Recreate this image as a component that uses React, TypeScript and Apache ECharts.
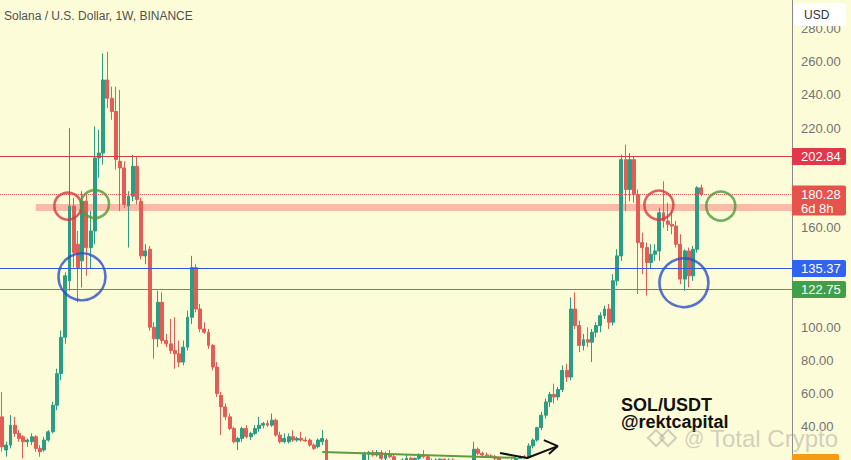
import React, { useEffect, useRef } from "react";
import * as echarts from "echarts";

// ---- weekly candles (SOL / USD, 1W) ----
const opens = [
  46, 26, 29, 41, 36, 34, 31, 31, 34, 27, 26, 32, 37, 53, 72, 94, 128, 173, 150, 140,
  176, 148, 158, 202, 205, 249, 238, 230, 200, 196, 173, 179, 197, 176, 143, 147, 100, 93, 115, 92,
  90, 86, 84, 79, 88, 106, 136, 111, 99, 97, 89, 76, 59, 52, 46, 39, 31, 33, 39, 34,
  36, 39, 41, 42, 41, 44, 35, 31, 31, 34, 32, 33, 32, 32, 29, 28, 31, 32, 14, 13,
  12, 13, 12, 11.5, 10, 10, 13.5, 23.5, 24.5, 23, 24.5, 21, 23.5, 22, 19, 17, 20, 21, 20, 21,
  22.5, 22, 19.5, 19, 20, 20.5, 19.5, 20, 16, 15, 17, 18.5, 19, 26.5, 24, 23, 22.5, 22, 21, 18,
  19.5, 18.5, 19, 21, 22, 21.5, 28.5, 32, 39.5, 47, 55, 59.5, 58, 62.5, 74, 70, 111, 101, 89, 92.5,
  91, 97, 101, 107, 111, 103, 128, 143, 201, 183, 201, 180, 151, 148, 139, 144, 146, 169, 164, 162,
  161, 150, 129, 146, 131, 147, 184,
];
const highs = [
  61, 31, 47, 46, 38, 35, 33, 36, 35, 29, 34, 38, 55, 75, 98, 133, 220, 178, 158, 182,
  180, 170, 221, 219, 265, 266, 245, 245, 243, 200, 182, 204, 203, 178, 150, 149, 103, 122, 121, 96,
  105, 106, 92, 92, 110, 143, 138, 114, 103, 99, 90, 79, 61, 54, 48, 40, 34, 40, 41, 37,
  41, 46, 43, 44, 48, 45, 37, 36, 36, 38, 34, 37, 34, 33, 30, 33, 38, 33, 17, 14,
  14, 14, 13, 12, 12, 14, 25, 25.5, 26, 26, 26, 25, 26, 23, 20, 21, 23, 22, 21.5, 24,
  26, 23, 21, 21, 21, 21, 21, 21, 17, 18, 19, 20, 31, 27.5, 25, 24.5, 23.5, 23, 22, 20,
  20, 20.5, 21.5, 22.5, 23, 30, 33, 40, 49, 57, 61, 66, 64, 77, 78, 118, 121, 104, 96, 100,
  99, 103, 109, 113, 114, 132, 147, 204, 210, 205, 203, 183, 157, 151, 150, 150, 172, 188, 175, 170,
  164, 156, 147, 148, 149, 185, 186,
];
const lows = [
  25, 22, 27, 34, 31, 21, 28, 29, 25, 22, 25, 31, 36, 50, 68, 90, 122, 136, 115, 124,
  131, 135, 150, 190, 198, 232, 225, 195, 170, 172, 148, 176, 174, 141, 138, 98, 81, 88, 90, 88,
  84, 75, 76, 77, 86, 102, 109, 97, 96, 87, 74, 58, 35, 44, 38, 30, 26, 31, 33, 32,
  35, 37, 39, 40, 40, 34, 30, 30, 30, 31, 31, 31, 31, 28, 26, 27, 29, 11, 12, 11,
  11, 12, 11, 9, 8, 9.5, 13, 20, 22, 22, 20, 20, 21, 18, 16, 16, 19, 19, 19, 20,
  21, 19, 18, 18, 19, 19, 19, 15, 14, 14, 16, 18, 18.5, 23, 22.5, 22, 21.5, 20, 17, 17,
  17.5, 17, 18.5, 20.5, 21, 21, 27, 31, 38, 45, 52, 54, 56, 61, 67, 68, 99, 85, 86, 88,
  79, 94, 97, 105, 99, 101, 125, 140, 170, 176, 175, 120, 132, 119, 135, 140, 140, 160, 158, 156,
  148, 126, 122, 124, 128, 145, 179,
];
const closes = [
  28, 29, 41, 36, 33, 31, 32, 34, 27, 25, 32, 37, 53, 72, 94, 131, 173, 145, 136, 176,
  148, 158, 202, 205, 249, 238, 230, 201, 196, 174, 179, 197, 177, 143, 146, 100, 93, 115, 92, 90,
  86, 84, 79, 88, 106, 136, 111, 99, 97, 89, 76, 60, 52, 46, 39, 31, 33, 39, 34, 36,
  39, 41, 42, 41, 44, 35, 31, 33, 34, 32, 33, 32, 31.5, 29, 27, 32, 33, 14, 13, 12,
  13, 12, 11.5, 10, 10, 13.5, 23.5, 24.5, 23, 24.5, 21, 23.5, 22, 19, 17, 20, 21, 20, 21, 22.5,
  22, 19.5, 19, 20, 20.5, 19.5, 20, 16, 15, 17, 18.5, 19, 26.5, 24, 23, 22.5, 22, 21, 18, 19.5,
  18.5, 19, 21, 22, 21.5, 28.5, 32, 39.5, 47, 55, 59.5, 58, 62.5, 74, 70, 111, 101, 89, 92.5, 91,
  97, 101, 107, 111, 103, 128, 143, 201, 183, 201, 180, 151, 148, 139, 144, 146, 169, 164, 162, 161,
  150, 129, 146, 131, 147, 184, 180.28,
];
const totalSlots = 188; // weeks on the time axis incl. right-hand empty space
const weekSlots = Array.from({ length: totalSlots }, (_, i) => String(i));

// ---- price axis ----
const priceMin = 20;
const priceMax = 297.2;
const priceStep = 20;
const hiddenTicks = [20, 120, 140, 180, 200]; // covered by price tags in the reference

// ---- levels / annotations (in data coordinates) ----
const resistance = 202.84;
const lastPrice = 180.28;
const support1 = 135.37;
const support2 = 122.75;
const countdown = "6d 8h";
const zoneLow = 170.0;
const zoneHigh = 174.2;
const zoneStartWeek = 8;
const circlePts = [
  [15.6, 173.0],
  [22.05, 174.2],
  [18.96, 130.4],
  [155.9, 173.6],
  [161.85, 126.8],
  [170.6, 173.0],
];
const trendPts = [
  [76, 24.8],
  [122, 21.3],
];
const arrowShaft = [
  [118.2, 24.2],
  [124.6, 21.2],
  [131.9, 28.4],
];
const arrowHead = [
  [128.6, 32.0],
  [131.9, 28.4],
  [129.8, 23.6],
];

const title = "Solana / U.S. Dollar, 1W, BINANCE";
const pairText = "SOL/USDT";
const authorText = "@rektcapital";
const watermark = "Total Crypto";

// ---- styles ----
const BG = "#fdfcd8";
const UP = "#2a9d84";
const DOWN = "#e35d57";
const FONT = "Liberation Sans, Arial, sans-serif";
const circleColors = ["#d23b3b", "#4a9a3c", "#2a4fc7", "#d23b3b", "#2a4fc7", "#4a9a3c"];
const circleSizes = [27, 28, 47, 29, 49, 29];

const levelSeries = (v: number, color: string, type: string) => ({
  type: "line",
  xAxisIndex: 1,
  data: [],
  silent: true,
  z: 3,
  markLine: {
    silent: true,
    symbol: "none",
    label: { show: false },
    lineStyle: { color, width: 1, type },
    data: [{ yAxis: v }],
  },
});

export default function App() {
  const ref = useRef<HTMLDivElement>(null);

  useEffect(() => {
    document.body.style.margin = "0";
    const chart = echarts.init(ref.current!, null, { renderer: "svg" });
    const candles = opens.map((o, i) => [o, closes[i], lows[i], highs[i]]);

    chart.setOption({
      animation: false,
      backgroundColor: BG,
      textStyle: { fontFamily: FONT },
      grid: { left: 0, right: 59, top: 0, bottom: -2 },
      xAxis: [
        { type: "category", data: weekSlots, show: false, boundaryGap: true },
        { type: "value", min: -0.5, max: totalSlots - 0.5, show: false },
      ],
      yAxis: {
        type: "value",
        position: "right",
        min: priceMin,
        max: priceMax,
        interval: priceStep,
        axisLine: { show: true, onZero: false, lineStyle: { color: "#8a8a8a", width: 1 } },
        axisTick: { show: false },
        splitLine: { show: false },
        axisLabel: {
          margin: 9,
          color: "#737373",
          fontSize: 13,
          fontFamily: FONT,
          formatter: (v: number) =>
            Math.abs(v % priceStep) < 1e-6 && !hiddenTicks.some((h) => Math.abs(h - v) < 1e-6)
              ? v.toFixed(2)
              : "",
        },
      },
      series: [
        {
          type: "line",
          xAxisIndex: 1,
          data: [],
          silent: true,
          z: 1,
          markArea: {
            silent: true,
            itemStyle: { color: "#f6b4a2", opacity: 0.9 },
            data: [[{ xAxis: zoneStartWeek, yAxis: zoneLow }, { xAxis: totalSlots - 0.5, yAxis: zoneHigh }]],
          },
        },
        {
          type: "candlestick",
          xAxisIndex: 0,
          data: candles,
          barWidth: 3.4,
          z: 2,
          itemStyle: { color: UP, color0: DOWN, borderColor: UP, borderColor0: DOWN, borderWidth: 1 },
        },
        levelSeries(resistance, "#cf3f3f", "solid"),
        levelSeries(lastPrice, "#e06060", "dotted"),
        levelSeries(support1, "#3457d5", "solid"),
        levelSeries(support2, "#4f9f4f", "solid"),
        {
          type: "line",
          xAxisIndex: 1,
          data: trendPts,
          symbol: "none",
          z: 4,
          lineStyle: { color: "#5c9e3e", width: 2 },
        },
        {
          type: "line",
          xAxisIndex: 1,
          data: arrowShaft,
          symbol: "none",
          z: 4,
          lineStyle: { color: "#111", width: 2 },
        },
        {
          type: "line",
          xAxisIndex: 1,
          data: arrowHead,
          symbol: "none",
          z: 4,
          lineStyle: { color: "#111", width: 2 },
        },
        {
          type: "scatter",
          xAxisIndex: 1,
          z: 5,
          data: circlePts.map((p, i) => ({
            value: p,
            symbolSize: circleSizes[i],
            itemStyle: { color: "rgba(0,0,0,0)", borderColor: circleColors[i], borderWidth: 2.6 },
          })),
        },
      ],
    });

    const yPix = (v: number) => chart.convertToPixel({ yAxisIndex: 0 }, v) as number;
    const tagX = 792;
    const tagW = 54;
    const tag = (v: number, color: string, text: string, extra?: string) => {
      const y = yPix(v);
      const h = extra ? 30 : 17;
      const els: any[] = [
        {
          type: "rect",
          shape: { x: tagX, y: y - 8.5, width: tagW, height: h, r: [0, 2, 2, 0] },
          style: { fill: color },
          z: 100,
        },
        {
          type: "text",
          x: 801,
          y: y,
          style: { text, fill: "#fff", font: `13px ${FONT}`, align: "left", verticalAlign: "middle" },
          z: 101,
        },
      ];
      if (extra) {
        els.push({
          type: "text",
          x: 801,
          y: y + 14,
          style: { text: extra, fill: "#fff", font: `13px ${FONT}`, align: "left", verticalAlign: "middle" },
          z: 101,
        });
      }
      return els;
    };

    const wmColor = "rgba(170,170,165,0.55)";
    chart.setOption({
      graphic: [
        {
          type: "text",
          x: 4,
          y: 15.5,
          style: { text: title, fill: "#505050", font: `12px ${FONT}`, align: "left", verticalAlign: "middle" },
          z: 100,
        },
        {
          type: "rect",
          shape: { x: 794, y: 3, width: 52, height: 23, r: 4 },
          style: { fill: "#ffffff" },
          z: 100,
        },
        {
          type: "text",
          x: 804,
          y: 14.5,
          style: { text: "USD", fill: "#333", font: `12px ${FONT}`, align: "left", verticalAlign: "middle" },
          z: 101,
        },
        ...tag(resistance, "#e3364a", resistance.toFixed(2)),
        ...tag(lastPrice, "#e6524c", lastPrice.toFixed(2), countdown),
        ...tag(support1, "#2f63f0", support1.toFixed(2)),
        ...tag(support2, "#3f9f4b", support2.toFixed(2)),
        {
          type: "rect",
          shape: { x: tagX, y: 454, width: 47, height: 18, r: 2 },
          style: { fill: "#f59b14" },
          z: 100,
        },
        {
          type: "text",
          x: 621,
          y: 405,
          style: { text: pairText, fill: "#111", font: `bold 18px ${FONT}`, align: "left", verticalAlign: "middle" },
          z: 110,
        },
        {
          type: "text",
          x: 621,
          y: 422,
          style: { text: authorText, fill: "#111", font: `bold 18px ${FONT}`, align: "left", verticalAlign: "middle" },
          z: 110,
        },
        {
          type: "polygon",
          shape: { points: [[656, 430], [664, 438], [656, 446], [648, 438]] },
          style: { fill: "none", stroke: wmColor, lineWidth: 2 },
          z: 120,
        },
        {
          type: "polygon",
          shape: { points: [[668, 430], [676, 438], [668, 446], [660, 438]] },
          style: { fill: "none", stroke: wmColor, lineWidth: 2 },
          z: 120,
        },
        {
          type: "text",
          x: 684,
          y: 438,
          style: { text: "@", fill: wmColor, font: `20px ${FONT}`, align: "left", verticalAlign: "middle" },
          z: 120,
        },
        {
          type: "text",
          x: 710,
          y: 438,
          style: { text: watermark, fill: wmColor, font: `24px ${FONT}`, align: "left", verticalAlign: "middle" },
          z: 120,
        },
      ],
    });

    return () => chart.dispose();
  }, []);

  return (
    <div
      ref={ref}
      style={{ position: "absolute", left: 0, top: 0, width: 851, height: 460, background: BG }}
    />
  );
}
